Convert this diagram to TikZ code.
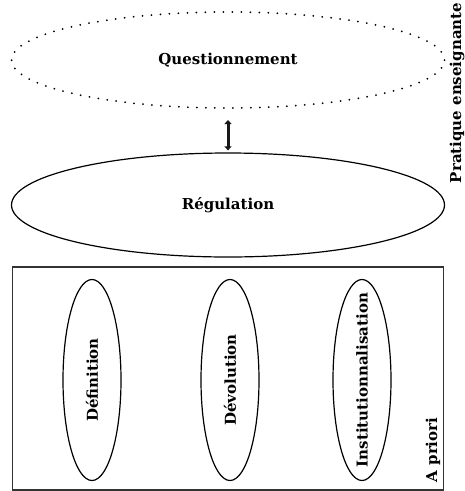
\documentclass[tikz,border=0pt]{standalone}
\usepackage{fontspec}
\setmainfont{DejaVu Serif}
\usetikzlibrary{ shapes.geometric, % For ellipses
                 arrows.meta,      % For the double arrow
               }

\begin{document}
\begin{tikzpicture}[x=1pt, y=-1pt,
  font=\bfseries\fontsize{15}{17}\selectfont,
  bigoval/.style={draw, ellipse, inner sep=0pt, minimum width=433pt, minimum height=96pt},
  phase/.style={draw, ellipse, line width=1.2pt, inner sep=0pt, minimum width=58pt, minimum height=201pt}]
  \useasboundingbox (0,0) rectangle (465,491);

  \node[bigoval, line width=2pt, line cap=round, dash pattern=on 0pt off 9pt] (questionnement) at (228,60) {Questionnement};
  \node[bigoval, line width=1.2pt, minimum height=104pt] (regulation) at (228,205) {R\'egulation};

  \node[draw, draw=black!80, line width=1.2pt, minimum width=431pt, minimum height=223pt] (apriori_box) at (228.3,378.5) {};
  % ovals first, the rotated words on top
  \node[phase] (definition) at (92,380) {};
  \node[phase] (devolution) at (230,380) {};
  \node[phase] (institution) at (362,380) {};
  \node[rotate=90] (definition_txt) at (definition) {D\'efinition};
  \node[rotate=90] (devolution_txt) at (devolution) {D\'evolution};
  \node[rotate=90] (institution_txt) at (institution.center) {Institutionnalisation};

  \node[rotate=90] (apriori) at (433,450) {A priori};
  \node[rotate=90] (pratique) at (457,93) {Pratique enseignante};

  \draw[line width=3pt, black!90, {Triangle[length=4pt,width=7pt]}-{Triangle[length=4pt,width=7pt]},
        shorten <=11pt, shorten >=2pt] (questionnement) -- (regulation);
\end{tikzpicture}
\end{document}
